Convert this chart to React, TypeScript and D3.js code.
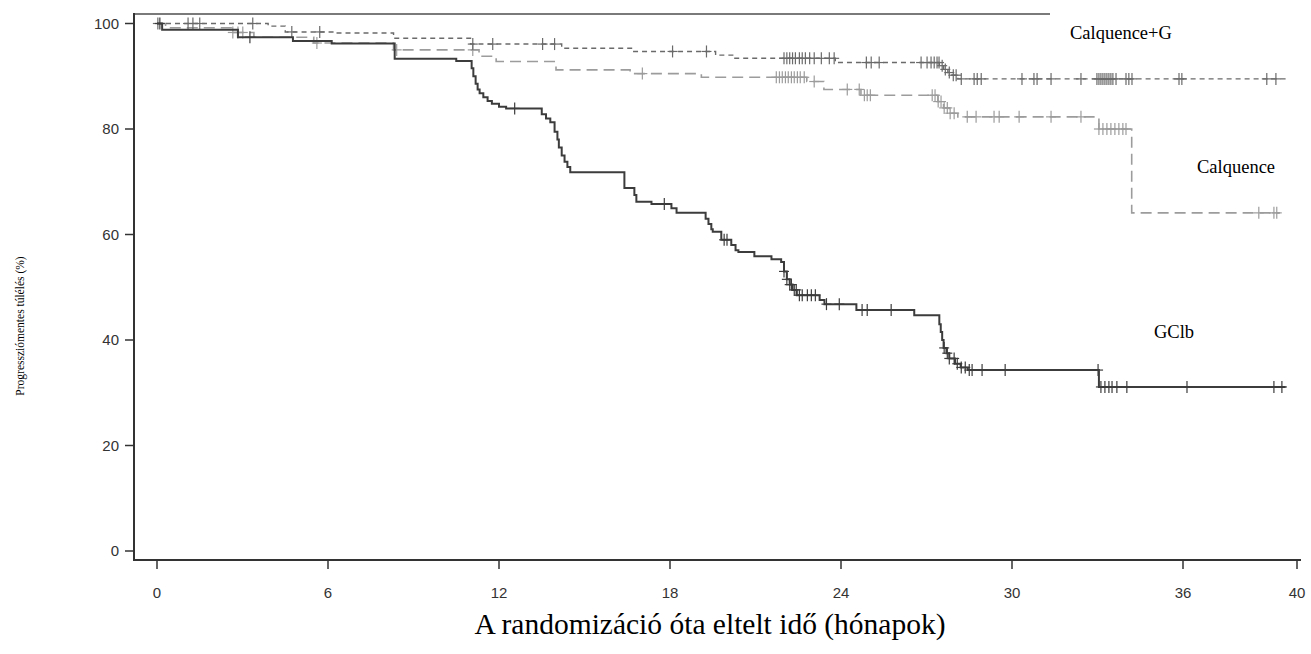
import React, { useEffect, useRef } from "react";
import * as d3 from "d3";

// month axis ticks
const xTicks = [0, 6, 12, 18, 24, 30, 36, 40];
const yTicks = [0, 20, 40, 60, 80, 100];

// GClb (solid)
const gclbTime = [0, 0.18, 2.84, 4.77, 6.13, 8.34, 10.5, 11.04, 11.1, 11.18, 11.25, 11.32, 11.45, 11.6, 11.75, 12.0, 12.25, 13.5, 13.65, 13.8, 13.95, 14.05, 14.1, 14.2, 14.3, 14.4, 14.5, 16.4, 16.75, 16.82, 17.35, 18.05, 18.23, 19.25, 19.35, 19.45, 19.5, 19.8, 20.15, 20.3, 20.4, 20.96, 21.56, 21.9, 22.0, 22.1, 22.2, 22.3, 22.45, 23.25, 23.42, 24.54, 26.57, 27.45, 27.5, 27.55, 27.6, 27.7, 27.8, 28.0, 28.2, 28.45, 33.05];
const gclbSurv = [100, 98.8, 97.4, 96.7, 96.2, 93.3, 92.9, 91.5, 90, 88.6, 87.5, 86.8, 86.0, 85.3, 84.8, 84.2, 83.9, 82.8, 82.0, 81.3, 79.5, 78, 76.5, 75, 73.8, 72.8, 71.8, 68.8, 67.5, 66.2, 65.8, 65.0, 64.1, 63, 62, 61, 60.5, 59, 58, 57, 56.7, 55.9, 55.3, 54.8, 53, 51.5, 50.5, 49.5, 48.5, 47.6, 46.8, 45.7, 44.7, 43, 41.5, 40, 38.5, 37.5, 36.5, 35.5, 34.8, 34.3, 31.1];
const gclbCensor = [0.1, 3.26, 12.55, 17.8, 19.9, 20.0, 22.0, 22.1, 22.2, 22.26, 22.36, 22.43, 22.54, 22.64, 22.82, 22.96, 23.1, 23.49, 23.94, 24.74, 24.92, 25.76, 27.62, 27.73, 27.8, 27.97, 28.08, 28.22, 28.36, 28.5, 28.6, 28.95, 29.76, 33.02, 33.12, 33.26, 33.4, 33.51, 33.68, 34.03, 36.14, 39.19, 39.47];
const gclbEnd = 39.6;

// Calquence+G (short dash)
const cgTime = [0, 3.9, 4.5, 6.2, 8.3, 11.0, 14.2, 16.7, 19.6, 20.2, 23.8, 27.45, 27.6, 27.75, 27.9, 28.1];
const cgSurv = [100, 99.5, 98.4, 98.2, 97.2, 96.1, 95.3, 94.7, 94.0, 93.4, 92.6, 92.0, 91.3, 90.7, 90.2, 89.5];
const cgCensor = [0.03, 1.09, 1.26, 1.5, 3.36, 4.73, 5.71, 11.08, 11.78, 13.53, 13.95, 18.09, 19.28, 22.0, 22.1, 22.2, 22.3, 22.4, 22.54, 22.64, 22.75, 22.9, 23.06, 23.31, 23.59, 23.76, 24.89, 25.06, 25.34, 26.81, 27.02, 27.16, 27.27, 27.37, 27.44, 27.55, 27.66, 27.8, 27.94, 28.04, 28.22, 28.67, 28.78, 28.92, 30.35, 30.77, 30.88, 31.37, 32.42, 32.98, 33.05, 33.12, 33.19, 33.26, 33.33, 33.4, 33.47, 33.54, 33.65, 34.0, 34.1, 34.21, 35.86, 35.96, 38.94, 39.26];
const cgEnd = 39.6;

// Calquence (long dash)
const cqTime = [0, 0.3, 2.6, 3.4, 5.5, 8.3, 11.3, 11.9, 14.0, 16.6, 19.1, 22.8, 23.4, 24.7, 27.4, 27.6, 27.8, 28.1, 33.05, 34.2];
const cqSurv = [100, 99.2, 98.3, 97.4, 96.3, 95.0, 93.8, 92.8, 91.2, 90.5, 89.8, 89.0, 87.5, 86.4, 85.2, 84.0, 83.0, 82.3, 80.0, 64.1];
const cqCensor = [2.66, 2.84, 3.01, 5.61, 8.41, 11.08, 17.03, 21.73, 21.84, 21.94, 22.05, 22.15, 22.26, 22.36, 22.47, 22.57, 22.71, 23.06, 24.22, 24.64, 24.82, 24.92, 25.03, 27.2, 27.3, 27.41, 27.51, 27.62, 27.73, 27.83, 27.97, 28.43, 28.74, 29.37, 29.55, 30.25, 31.37, 32.42, 33.05, 33.19, 33.33, 33.47, 33.61, 33.75, 33.89, 34.0, 38.66, 39.19, 39.29];
const cqEnd = 39.4;

const series = [
  { name: "Calquence", time: cqTime, surv: cqSurv, censor: cqCensor, end: cqEnd, color: "#9c9c9c", dash: "11,6", width: 1.6 },
  { name: "Calquence+G", time: cgTime, surv: cgSurv, censor: cgCensor, end: cgEnd, color: "#6a6a6a", dash: "5,4", width: 1.4 },
  { name: "GClb", time: gclbTime, surv: gclbSurv, censor: gclbCensor, end: gclbEnd, color: "#3c3c3c", dash: null, width: 2 },
];

const labels = [
  { text: "Calquence+G", x: 1070, y: 39 },
  { text: "Calquence", x: 1197, y: 173 },
  { text: "GClb", x: 1154, y: 338 },
];

function survAt(time: number[], surv: number[], t: number) {
  let v = surv[0];
  for (let i = 0; i < time.length; i++) if (time[i] <= t) v = surv[i];
  return v;
}

export default function App() {
  const svgRef = useRef<SVGSVGElement>(null);

  useEffect(() => {
    const svg = d3.select(svgRef.current);
    svg.selectAll("*").remove();

    const x = d3.scaleLinear().domain([0, 40]).range([157, 1297]);
    const y = d3.scaleLinear().domain([0, 100]).range([551, 23.5]);
    const axisColor = "#333";
    const sans = "'Liberation Sans', Arial, sans-serif";
    const serif = "'Liberation Serif', 'Times New Roman', serif";

    // frame
    svg.append("line").attr("x1", 134).attr("x2", 1050).attr("y1", 14).attr("y2", 14)
      .attr("stroke", "#7a7a7a").attr("stroke-width", 2);
    svg.append("line").attr("x1", 134).attr("x2", 134).attr("y1", 13).attr("y2", 561)
      .attr("stroke", axisColor).attr("stroke-width", 2);
    svg.append("line").attr("x1", 133).attr("x2", 1301).attr("y1", 560).attr("y2", 560)
      .attr("stroke", axisColor).attr("stroke-width", 2);

    // y ticks
    const gy = svg.append("g");
    yTicks.forEach((v) => {
      gy.append("line").attr("x1", 125).attr("x2", 134).attr("y1", y(v)).attr("y2", y(v))
        .attr("stroke", axisColor).attr("stroke-width", 1.5);
      gy.append("text").attr("x", 119).attr("y", y(v)).attr("dy", "0.36em")
        .attr("text-anchor", "end").attr("font-family", sans).attr("font-size", 15)
        .attr("fill", axisColor).text(v);
    });

    // x ticks
    const gx = svg.append("g");
    xTicks.forEach((v) => {
      gx.append("line").attr("x1", x(v)).attr("x2", x(v)).attr("y1", 560).attr("y2", 569)
        .attr("stroke", axisColor).attr("stroke-width", 1.5);
      gx.append("text").attr("x", x(v)).attr("y", 598)
        .attr("text-anchor", "middle").attr("font-family", sans).attr("font-size", 15)
        .attr("fill", axisColor).text(v);
    });

    // curves
    const line = d3.line<[number, number]>()
      .x((d) => x(d[0]))
      .y((d) => y(d[1]))
      .curve(d3.curveStepAfter);

    series.forEach((s) => {
      const pts: [number, number][] = s.time.map((t, i) => [t, s.surv[i]]);
      pts.push([s.end, s.surv[s.surv.length - 1]]);
      const p = svg.append("path").datum(pts)
        .attr("fill", "none").attr("stroke", s.color).attr("stroke-width", s.width)
        .attr("d", line);
      if (s.dash) p.attr("stroke-dasharray", s.dash);

      const g = svg.append("g").attr("stroke", s.color).attr("stroke-width", 1.2);
      s.censor.forEach((t) => {
        const cx = x(t);
        const cy = y(survAt(s.time, s.surv, t));
        g.append("line").attr("x1", cx - 5).attr("x2", cx + 5).attr("y1", cy).attr("y2", cy);
        g.append("line").attr("x1", cx).attr("x2", cx).attr("y1", cy - 6).attr("y2", cy + 6);
      });
    });

    // group labels
    labels.forEach((l) => {
      svg.append("text").attr("x", l.x).attr("y", l.y)
        .attr("font-family", serif).attr("font-size", 18.5).attr("fill", "#000").text(l.text);
    });

    // axis titles
    svg.append("text").attr("x", 710).attr("y", 634).attr("text-anchor", "middle")
      .attr("font-family", serif).attr("font-size", 29.5).attr("fill", "#000")
      .text("A randomizáció óta eltelt idő (hónapok)");

    svg.append("text").attr("transform", "translate(24,326) rotate(-90)")
      .attr("text-anchor", "middle").attr("font-family", serif).attr("font-size", 11.5)
      .attr("fill", "#000").text("Progressziómentes túlélés (%)");
  }, []);

  return (
    <svg
      ref={svgRef}
      width={1311}
      height={654}
      style={{ position: "absolute", left: 0, top: 0, background: "#fff" }}
    />
  );
}
